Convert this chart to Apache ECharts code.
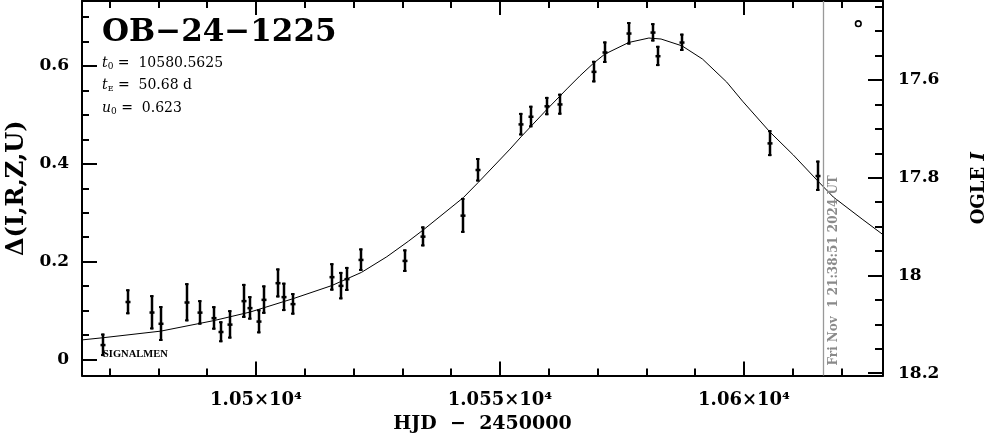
<!DOCTYPE html>
<html><head><meta charset="utf-8">
<script src="https://cdn.jsdelivr.net/npm/echarts@6/dist/echarts.min.js"></script>
<style>html,body{margin:0;padding:0;background:#fff}#c{width:986px;height:434px}</style>
</head><body><div id="c"></div>
<script>
// Observations: time (HJD-2450000), delta mag, error
const obsT = [10468.65, 10473.77, 10478.63, 10480.6, 10485.8, 10488.5, 10491.45, 10492.77, 10494.6, 10497.5,
  10498.7, 10500.7, 10501.7, 10504.45, 10505.8, 10507.65, 10515.5, 10517.5, 10518.65, 10521.6,
  10530.5, 10534.3, 10542.5, 10545.55, 10554.3, 10556.4, 10559.6, 10562.35, 10569.3, 10571.45,
  10576.4, 10581.35, 10582.4, 10587.3, 10605.3, 10615.2];
const obsV = [0.030, 0.118, 0.0965, 0.0735, 0.117, 0.0963, 0.085, 0.0567, 0.0718, 0.1198,
  0.1055, 0.078, 0.1224, 0.1565, 0.128, 0.1137, 0.1688, 0.151, 0.1647, 0.204,
  0.202, 0.2516, 0.2945, 0.3878, 0.481, 0.4966, 0.518, 0.5218, 0.5884, 0.628,
  0.6667, 0.6687, 0.6204, 0.6483, 0.4422, 0.3755];
const obsE = [0.023, 0.0255, 0.035, 0.0357, 0.039, 0.025, 0.024, 0.0214, 0.029, 0.0347,
  0.024, 0.0245, 0.029, 0.0296, 0.029, 0.022, 0.028, 0.028, 0.0245, 0.023,
  0.023, 0.0204, 0.0357, 0.024, 0.023, 0.022, 0.0187, 0.0214, 0.022, 0.022,
  0.023, 0.0187, 0.0207, 0.0177, 0.0265, 0.031];

// Model curve
const curveT = [10464.3, 10468.65, 10480.5, 10491.4, 10498.8, 10507.65, 10515.5, 10521.6, 10526.8, 10531.2,
  10534.3, 10542.5, 10545.55, 10552.05, 10554.3, 10559.6, 10563.7, 10566.4, 10569.1, 10571.45,
  10576.4, 10580.5, 10583.0, 10587.3, 10591.5, 10596.45, 10599.7, 10605.3, 10610.1, 10615.2,
  10618.3, 10624.2, 10628.5];
const curveV = [0.040, 0.0445, 0.058, 0.0796, 0.097, 0.1245, 0.151, 0.178, 0.210, 0.2415,
  0.265, 0.331, 0.362, 0.430, 0.455, 0.511, 0.553, 0.580, 0.605, 0.624,
  0.648, 0.657, 0.655, 0.641, 0.614, 0.567, 0.528, 0.465, 0.418, 0.364,
  0.332, 0.287, 0.255];

// Axis ticks and labels
const xMajor = [10500, 10550, 10600];
const xTickLabels = ['1.05×10⁴', '1.055×10⁴', '1.06×10⁴'];
const xMinor = [10470, 10480, 10490, 10510, 10520, 10530, 10540, 10560, 10570, 10580, 10590, 10610, 10620];
const yMajor = [0, 0.2, 0.4, 0.6];
const yTickLabels = ['0', '0.2', '0.4', '0.6'];
const yMinor = [0.05, 0.1, 0.15, 0.25, 0.3, 0.35, 0.45, 0.5, 0.55, 0.65, 0.7];
const magMajor = [17.6, 17.8, 18.0, 18.2];
const magTickLabels = ['17.6', '17.8', '18', '18.2'];
const magMinor = [17.45, 17.5, 17.55, 17.65, 17.7, 17.75, 17.85, 17.9, 17.95, 18.05, 18.1, 18.15];

const markTime = 10616.3;
const markText = 'Fri Nov  1 21:38:51 2024 UT';
const eventName = 'OB−24−1225';
const paramT0 = '10580.5625', paramTE = '50.68 d', paramU0 = '0.623';

const FONT = 'DejaVu Serif';
const X_MIN = 10464.34, X_MAX = 10628.48;
const Y_MIN = -0.0327, Y_MAX = 0.7327;
const M_MIN = 17.4383, M_MAX = 18.2049;

function lookup(vals, labels) {
  return function (v) {
    let best = 0;
    for (let i = 1; i < vals.length; i++) if (Math.abs(vals[i] - v) < Math.abs(vals[best] - v)) best = i;
    return labels[best];
  };
}
const tickLine = { color: '#000', width: 2 };
const labelStyle = { fontFamily: FONT, fontWeight: 'bold', color: '#000' };

function xAxis(pos, ticks, len, withLine, labels) {
  return {
    type: 'value', min: X_MIN, max: X_MAX, position: pos, gridIndex: 0,
    axisLine: { show: withLine, onZero: false, lineStyle: { color: '#000', width: 2 } },
    axisTick: { show: true, inside: true, length: len, customValues: ticks, lineStyle: tickLine },
    axisLabel: labels ? Object.assign({ show: true, customValues: ticks, margin: 16, fontSize: 18,
      formatter: lookup(ticks, labels) }, labelStyle) : { show: false },
    splitLine: { show: false }
  };
}
function yAxis(pos, min, max, inv, ticks, len, withLine, labels, margin, padTop) {
  return {
    type: 'value', min: min, max: max, inverse: inv, position: pos, gridIndex: 0,
    axisLine: { show: withLine, onZero: false, lineStyle: { color: '#000', width: 2 } },
    axisTick: { show: true, inside: true, length: len, customValues: ticks, lineStyle: tickLine },
    axisLabel: labels ? Object.assign({ show: true, customValues: ticks, margin: margin, fontSize: 17,
      padding: [padTop, 0, 0, 0], formatter: lookup(ticks, labels) }, labelStyle) : { show: false },
    splitLine: { show: false }
  };
}

const xAxes = [
  xAxis('bottom', xMajor, 14, true, xTickLabels),
  xAxis('top', xMajor, 14, true, null),
  xAxis('bottom', xMinor, 7, false, null),
  xAxis('top', xMinor, 7, false, null)
];
Object.assign(xAxes[0], {
  name: 'HJD  −  2450000', nameLocation: 'middle', nameGap: 39,
  nameTextStyle: { fontFamily: FONT, fontWeight: 'bold', fontSize: 19, color: '#000' }
});
const yAxes = [
  yAxis('left', Y_MIN, Y_MAX, false, yMajor, 15, true, yTickLabels, 13, 5),
  yAxis('left', Y_MIN, Y_MAX, false, yMinor, 7, false, null, 0, 0),
  yAxis('right', M_MIN, M_MAX, true, magMajor, 15, true, magTickLabels, 15, 12),
  yAxis('right', M_MIN, M_MAX, true, magMinor, 8, false, null, 0, 0)
];
Object.assign(yAxes[0], {
  name: 'Δ(I,R,Z,U)', nameLocation: 'middle', nameGap: 53, nameRotate: 90,
  nameTextStyle: { fontFamily: FONT, fontWeight: 'bold', fontSize: 24, color: '#000' }
});
Object.assign(yAxes[2], {
  name: '{a|OGLE }{b|I}', nameLocation: 'middle', nameGap: 87, nameRotate: 90,
  nameTextStyle: { color: '#000', rich: {
    a: { fontFamily: FONT, fontWeight: 'bold', fontSize: 18, color: '#000' },
    b: { fontFamily: FONT, fontWeight: 'bold', fontStyle: 'italic', fontSize: 18, color: '#000' } } }
});

const chart = echarts.init(document.getElementById('c'), null, { renderer: 'canvas' });
chart.setOption({
  animation: false,
  backgroundColor: '#fff',
  grid: { left: 82, right: 103, top: 1, bottom: 58.5, containLabel: false, outerBoundsMode: 'none' },
  xAxis: xAxes,
  yAxis: yAxes,
  series: [
    {
      type: 'line', xAxisIndex: 0, yAxisIndex: 0,
      data: curveT.map((t, i) => [t, curveV[i]]),
      showSymbol: false, smooth: false,
      lineStyle: { color: '#000', width: 1 }, z: 3,
      markLine: {
        silent: true, symbol: ['none', 'none'], animation: false,
        lineStyle: { color: '#999', width: 1.3, type: 'solid' },
        label: { show: true, formatter: markText, position: 'insideStartBottom', distance: 4,
          padding: [0, 0, 0, 6],
          fontFamily: FONT, fontWeight: 'bold', fontSize: 12, color: '#8a8a8a' },
        data: [{ xAxis: markTime }]
      }
    },
    {
      type: 'custom', xAxisIndex: 0, yAxisIndex: 0, z: 4,
      data: obsT.map((t, i) => [t, obsV[i], obsE[i]]),
      encode: { x: 0, y: 1 },
      renderItem: function (params, api) {
        const t = api.value(0), v = api.value(1), e = api.value(2);
        const top = api.coord([t, v + e]);
        const bot = api.coord([t, v - e]);
        const mid = api.coord([t, v]);
        const x = Math.round(top[0]);
        const st = { stroke: '#000', lineWidth: 2.5 };
        return {
          type: 'group', children: [
            { type: 'line', shape: { x1: x, y1: top[1], x2: x, y2: bot[1] }, style: st },
            { type: 'line', shape: { x1: x - 2, y1: top[1] + 1, x2: x + 1.5, y2: top[1] + 1 }, style: { stroke: '#000', lineWidth: 2 } },
            { type: 'line', shape: { x1: x - 2, y1: bot[1] - 1, x2: x + 1.5, y2: bot[1] - 1 }, style: { stroke: '#000', lineWidth: 2 } },
            { type: 'rect', shape: { x: x - 2.5, y: mid[1] - 1, width: 5, height: 2.5 }, style: { fill: '#000' } }
          ]
        };
      }
    }
  ],
  graphic: [
    { type: 'text', left: 102, top: 17, z: 10,
      style: { text: eventName, font: 'bold 31px "DejaVu Serif"', fill: '#000' } },
    { type: 'text', left: 102, top: 56, z: 10,
      style: { text: '{i|t}{s|0}{n| =  ' + paramT0 + '}', rich: {
        i: { fontFamily: FONT, fontStyle: 'italic', fontSize: 14, fill: '#000' },
        s: { fontFamily: FONT, fontSize: 9, fill: '#000', verticalAlign: 'bottom', lineHeight: 16 },
        n: { fontFamily: FONT, fontSize: 14, fill: '#000' } } } },
    { type: 'text', left: 102, top: 78, z: 10,
      style: { text: '{i|t}{s|E}{n| =  ' + paramTE + '}', rich: {
        i: { fontFamily: FONT, fontStyle: 'italic', fontSize: 14, fill: '#000' },
        s: { fontFamily: FONT, fontSize: 8, fill: '#000', verticalAlign: 'bottom', lineHeight: 16 },
        n: { fontFamily: FONT, fontSize: 14, fill: '#000' } } } },
    { type: 'text', left: 102, top: 101, z: 10,
      style: { text: '{i|u}{s|0}{n| =  ' + paramU0 + '}', rich: {
        i: { fontFamily: FONT, fontStyle: 'italic', fontSize: 14, fill: '#000' },
        s: { fontFamily: FONT, fontSize: 9, fill: '#000', verticalAlign: 'bottom', lineHeight: 16 },
        n: { fontFamily: FONT, fontSize: 14, fill: '#000' } } } },
    { type: 'text', left: 103, top: 349, z: 10,
      style: { text: 'SIGNALMEN', font: 'bold 10.5px "Liberation Serif"', fill: '#000' } },
    { type: 'circle', shape: { cx: 858.3, cy: 23.7, r: 2.8 }, z: 10,
      style: { fill: 'none', stroke: '#000', lineWidth: 1.6 } }
  ]
});
</script></body></html>
